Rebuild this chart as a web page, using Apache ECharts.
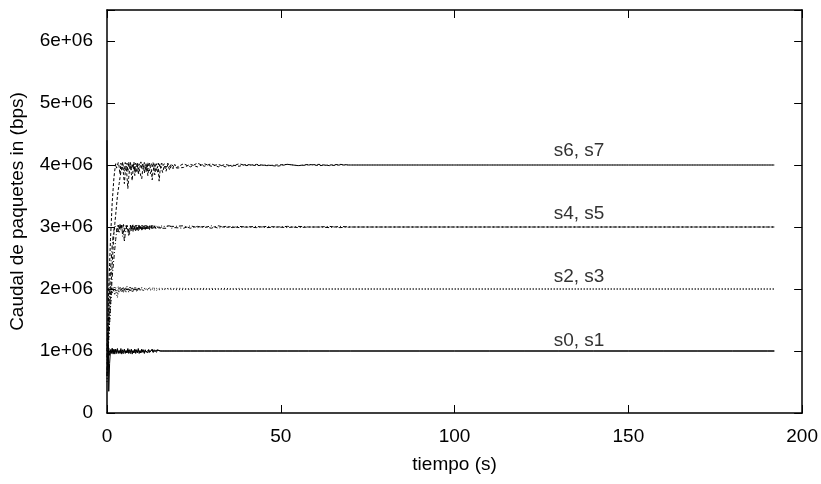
<!DOCTYPE html>
<html><head><meta charset="utf-8">
<script src="https://cdn.jsdelivr.net/npm/echarts@6/dist/echarts.min.js"></script>
<style>html,body{margin:0;padding:0;background:#fff}#c{width:821px;height:484px}</style>
</head><body><div id="c"></div>
<script>
// time samples (s)
var TIME_EARLY = [
  0,0.25,0.5,0.75,1, 1.25,1.5,1.75,2,2.25, 2.5,2.75,3,3.25,3.5, 3.75,4,4.25,4.5,4.75,
  5,5.25,5.5,5.75,6, 6.25,6.5,6.75,7,7.25, 7.5,7.75,8,8.25,8.5, 8.75,9,9.25,9.5,9.75,
  10,10.25,10.5,10.75,11, 11.25,11.5,11.75,12,12.25, 12.5,12.75,13,13.25,13.5, 13.75,14,14.25,14.5,14.75,
  15,15.25,15.5,15.75,16];
var TIME_MID = [16.5,17,17.5,18,18.5,19,19.5,20];
var TIME_LATE = [22,24,26,28,30,32,34,36,38,40,43,46,49,52,55,58,61,64,67,70,80,90,100,110,120,130,140,150,160,170,180,190,192];

// throughput values in Mbps (converted to bps for plotting)
var S0_EARLY = [
  4.40,2.00,0.35,0.80,1.02, 0.96,1.04,0.97,1.03,0.95, 1.02,0.98,1.04,0.96,1.01, 0.97,1.04,0.95,1.02,0.98,
  1.03,0.96,1.01,0.97,1.04, 0.96,1.02,0.98,1.03,0.95, 1.01,0.97,1.03,0.96,1.02, 0.98,1.04,0.96,1.01,0.97,
  1.03,0.98,1.02,0.96,1.01, 0.98,1.03,0.97,1.02,0.98, 1.01,0.97,1.03,0.98,1.02, 0.99,1.01,0.98,1.02,0.99,
  1.01,1.00,1.00,1.00,1.00];
var S0_MID = [1.00,1.00,1.00,1.00,1.00,1.00,1.00,1.00];
var S0_LATE = [1.00,1.00,1.00,1.00,1.00,1.00,1.00,1.00,1.00,1.00,1.00,1.00,1.00,1.00,1.00,1.00,1.00,1.00,1.00,1.00,1.00,1.00,1.00,1.00,1.00,1.00,1.00,1.00,1.00,1.00,1.00,1.00,1.00];

var S1_EARLY = [
  0.60,0.90,1.05,0.93,1.02, 0.97,1.04,0.95,1.02,0.98, 1.03,0.96,1.01,0.98,1.04, 0.96,1.01,0.99,1.03,0.96,
  1.01,0.98,1.03,0.97,1.02, 0.99,1.03,0.96,1.01,0.98, 1.03,0.97,1.02,0.99,1.04, 0.97,1.01,0.98,1.03,0.97,
  1.02,0.99,1.01,0.97,1.02, 0.98,1.01,0.99,1.02,0.98, 1.01,0.99,1.02,0.98,1.01, 0.99,1.01,1.00,0.99,1.01,
  1.00,1.00,1.00,1.00,1.00];
var S1_MID = [1.00,1.00,1.00,1.00,1.00,1.00,1.00,1.00];
var S1_LATE = [1.00,1.00,1.00,1.00,1.00,1.00,1.00,1.00,1.00,1.00,1.00,1.00,1.00,1.00,1.00,1.00,1.00,1.00,1.00,1.00,1.00,1.00,1.00,1.00,1.00,1.00,1.00,1.00,1.00,1.00,1.00,1.00,1.00];

var S2_EARLY = [
  0.50,0.85,1.20,1.45,1.70, 1.90,2.02,1.96,1.94,2.03, 1.97,1.92,1.86,1.95,1.98, 2.04,1.96,2.01,1.95,2.03,
  1.97,2.02,1.95,2.04,1.97, 2.01,1.96,2.03,1.98,2.02, 1.95,2.01,1.97,2.03,1.96, 2.02,1.98,2.03,1.97,2.01,
  1.98,2.02,1.97,2.01,1.99, 2.02,1.98,2.01,1.99,2.02, 1.98,2.01,1.99,2.02,1.98, 2.01,1.99,2.01,1.98,2.01,
  1.99,2.01,2.00,1.99,2.01];
var S2_MID = [2.01,1.99,2.00,2.01,1.99,2.00,2.01,1.99];
var S2_LATE = [2.01,1.99,2.00,2.01,1.99,2.00,2.01,2.00,1.99,2.00,2.00,2.00,2.00,2.00,2.00,2.00,2.00,2.00,2.00,2.00,2.00,2.00,2.00,2.00,2.00,2.00,2.00,2.00,2.00,2.00,2.00,2.00,2.00];

var S3_EARLY = [
  0.80,1.15,1.50,1.80,2.05, 1.98,1.92,2.03,1.96,1.90, 2.02,1.97,1.93,2.04,1.95, 1.93,2.02,1.96,2.03,1.94,
  2.01,1.96,2.03,1.97,2.02, 1.95,2.03,1.97,2.01,1.96, 2.02,1.98,2.03,1.97,2.01, 1.96,2.02,1.98,2.01,1.97,
  2.03,1.98,2.01,1.97,2.02, 1.99,2.01,1.98,2.02,1.99, 2.01,1.98,2.01,1.99,2.02, 1.99,2.01,1.98,2.01,1.99,
  2.01,2.00,1.99,2.01,2.00];
var S3_MID = [1.99,2.00,2.01,1.99,2.01,2.00,1.99,2.00];
var S3_LATE = [1.99,2.01,2.00,1.99,2.01,2.00,1.99,2.00,2.01,2.00,2.00,2.00,2.00,2.00,2.00,2.00,2.00,2.00,2.00,2.00,2.00,2.00,2.00,2.00,2.00,2.00,2.00,2.00,2.00,2.00,2.00,2.00,2.00];

var S4_EARLY = [
  0.60,0.90,1.20,1.45,1.70, 1.95,2.20,2.35,2.50,2.65, 2.80,2.92,3.02,2.95,2.90, 3.04,2.97,3.03,2.85,2.94,
  2.76,2.90,2.95,3.04,3.03, 2.93,2.88,3.02,2.96,3.04, 2.93,3.02,2.97,3.04,2.95, 3.01,2.94,3.03,2.96,3.02,
  2.95,3.03,2.97,3.02,2.96, 3.03,2.97,3.02,2.96,3.02, 2.98,3.03,2.97,3.02,2.98, 3.02,2.97,3.01,2.98,3.02,
  2.98,3.01,2.99,3.02,2.98];
var S4_MID = [3.01,2.98,3.02,2.99,3.01,2.98,3.01,2.99];
var S4_LATE = [3.02,2.98,3.01,2.99,3.02,2.98,3.01,2.99,3.01,3.00,3.01,2.99,3.00,3.01,2.99,3.00,3.00,3.01,2.99,3.00,3.00,3.00,3.00,3.00,3.00,3.00,3.00,3.00,3.00,3.00,3.00,3.00,3.00];

var S5_EARLY = [
  0.90,1.25,1.60,1.95,2.30, 2.50,2.70,2.85,2.95,3.02, 3.04,2.96,2.92,3.03,2.97, 3.04,2.95,3.03,2.96,3.04,
  2.93,3.02,2.97,3.04,2.94, 2.85,2.97,3.03,2.94,2.96, 3.04,2.95,3.02,2.94,3.03, 2.96,3.04,2.95,3.02,2.97,
  3.03,2.96,3.02,2.97,3.03, 2.96,3.02,2.97,3.01,2.96, 3.02,2.98,3.03,2.97,3.01, 2.98,3.02,2.98,3.01,2.97,
  3.02,2.98,3.01,2.99,3.01];
var S5_MID = [2.98,3.01,2.99,3.02,2.98,3.01,2.99,3.01];
var S5_LATE = [2.98,3.02,2.99,3.01,2.98,3.02,2.99,3.01,2.99,3.00,2.99,3.01,3.00,2.99,3.01,3.00,3.00,2.99,3.01,3.00,3.00,3.00,3.00,3.00,3.00,3.00,3.00,3.00,3.00,3.00,3.00,3.00,3.00];

var S6_EARLY = [
  1.00,1.50,2.00,2.40,2.80, 3.10,3.40,3.60,3.80,3.92, 4.02,3.95,3.92,4.04,3.97, 3.85,4.03,3.94,4.05,3.95,
  3.90,4.04,3.96,4.03,3.89, 4.05,3.96,4.04,3.92,4.02, 3.95,4.05,3.91,4.03,3.97, 4.04,3.93,4.02,3.96,4.05,
  3.94,4.03,3.97,4.04,3.95, 4.02,3.93,4.04,3.97,4.03, 3.95,4.02,3.97,4.04,3.96, 4.03,3.97,4.02,3.95,4.03,
  3.97,4.02,3.96,4.03,3.98];
var S6_MID = [4.02,3.96,4.03,3.97,4.02,3.98,4.01,3.96];
var S6_LATE = [4.02,3.97,4.03,3.98,4.02,3.97,4.01,3.98,4.02,3.99,4.01,3.99,4.00,4.01,3.99,4.01,3.99,4.00,4.01,4.00,4.00,4.00,4.00,4.00,4.00,4.00,4.00,4.00,4.00,4.00,4.00,4.00,4.00];

var S7_EARLY = [
  0.70,1.00,1.30,1.60,1.90, 2.15,2.40,2.65,2.90,3.05, 3.20,3.35,3.50,3.60,3.70, 3.80,3.88,3.94,3.98,3.85,
  3.70,3.88,3.97,3.82,3.62, 3.80,3.93,3.99,3.86,3.75, 3.92,3.98,3.83,3.95,3.88, 3.99,3.85,3.94,3.97,3.82,
  3.78,3.92,3.98,3.87,3.96, 3.89,4.00,3.83,3.95,3.98, 3.86,3.93,3.76,3.90,3.97, 3.84,3.96,3.99,3.88,3.95,
  3.74,3.90,3.97,3.93,3.88];
var S7_MID = [3.99,3.90,4.01,3.92,3.99,3.94,4.01,3.95];
var S7_LATE = [3.96,4.01,3.97,4.02,3.98,4.01,3.97,4.00,3.98,4.01,3.99,4.00,3.98,4.01,3.99,4.00,4.01,3.99,4.00,4.00,4.00,4.00,4.00,4.00,4.00,4.00,4.00,4.00,4.00,4.00,4.00,4.00,4.00];

var Y_TICK_VALUES = [0,1e6,2e6,3e6,4e6,5e6,6e6];
var Y_TICK_LABELS = ['0','1e+06','2e+06','3e+06','4e+06','5e+06','6e+06'];
var X_TICK_LABELS = ['0','50','100','150','200'];

var LABEL_TEXT = ['s6, s7','s4, s5','s2, s3','s0, s1'];
var LABEL_T = [128.5,128.5,128.5,128.5];
var LABEL_V = [4.23e6,3.21e6,2.19e6,1.17e6];

var SERIES_EARLY = [S0_EARLY,S1_EARLY,S2_EARLY,S3_EARLY,S4_EARLY,S5_EARLY,S6_EARLY,S7_EARLY];
var SERIES_MID   = [S0_MID,S1_MID,S2_MID,S3_MID,S4_MID,S5_MID,S6_MID,S7_MID];
var SERIES_LATE  = [S0_LATE,S1_LATE,S2_LATE,S3_LATE,S4_LATE,S5_LATE,S6_LATE,S7_LATE];
var DASHES = ['solid','solid',[1,2],[1,2],[4,2,1,2],[4,2,1,2],[3,2],[3,2]];

var FONT = '"Liberation Sans", Arial, sans-serif';
var times = TIME_EARLY.concat(TIME_MID, TIME_LATE);
var series = [];
for (var i = 0; i < 8; i++) {
  var vals = SERIES_EARLY[i].concat(SERIES_MID[i], SERIES_LATE[i]);
  var d = [];
  for (var j = 0; j < times.length; j++) d.push([times[j], vals[j] * 1e6]);
  series.push({
    type: 'line', name: 's' + i, data: d, showSymbol: false, symbol: 'none',
    animation: false,
    lineStyle: { color: '#000', width: 1, type: DASHES[i] }
  });
}
var ld = [];
for (var k = 0; k < LABEL_TEXT.length; k++) ld.push({ value: [LABEL_T[k], LABEL_V[k]], name: LABEL_TEXT[k] });
series.push({
  type: 'scatter', data: ld, symbolSize: 0, animation: false, silent: true,
  itemStyle: { opacity: 1 },
  label: { show: true, position: 'right', distance: 0, formatter: function (p) { return p.name; },
           color: '#333', opacity: 1, fontSize: 19, fontFamily: FONT }
});

function yFmt(v) { var idx = Y_TICK_VALUES.indexOf(v); return idx >= 0 ? Y_TICK_LABELS[idx] : ''; }
function xFmt(v) { var s = String(v); return X_TICK_LABELS.indexOf(s) >= 0 ? s : ''; }

var axisLineStyle = { show: true, onZero: false, lineStyle: { color: '#000', width: 1.5 } };
var tickStyle = { show: true, inside: true, length: 8, lineStyle: { color: '#000' } };

var chart = echarts.init(document.getElementById('c'), null, { renderer: 'canvas' });
chart.setOption({
  backgroundColor: '#fff',
  animation: false,
  grid: { left: 107, right: 17, top: 10, bottom: 71 },
  xAxis: [{
    type: 'value', min: 0, max: 200, interval: 50, position: 'bottom',
    name: 'tiempo (s)', nameLocation: 'middle', nameGap: 42,
    nameTextStyle: { color: '#000', fontSize: 19, fontFamily: FONT },
    axisLine: axisLineStyle, axisTick: tickStyle,
    axisLabel: { color: '#000', fontSize: 19, fontFamily: FONT, margin: 14, formatter: xFmt },
    splitLine: { show: false }
  }, {
    type: 'value', min: 0, max: 200, interval: 50, position: 'top',
    axisLine: axisLineStyle, axisTick: tickStyle,
    axisLabel: { show: false }, splitLine: { show: false }
  }],
  yAxis: [{
    type: 'value', min: 0, max: 6.5e6, interval: 1e6, position: 'left',
    name: 'Caudal de paquetes in (bps)', nameLocation: 'middle', nameGap: 80,
    nameTextStyle: { color: '#000', fontSize: 19, fontFamily: FONT },
    axisLine: axisLineStyle, axisTick: tickStyle,
    axisLabel: { color: '#000', fontSize: 19, fontFamily: FONT, margin: 14, formatter: yFmt },
    splitLine: { show: false }
  }, {
    type: 'value', min: 0, max: 6.5e6, interval: 1e6, position: 'right',
    axisLine: axisLineStyle, axisTick: tickStyle,
    axisLabel: { show: false }, splitLine: { show: false }
  }],
  series: series
});
</script>
</body></html>
